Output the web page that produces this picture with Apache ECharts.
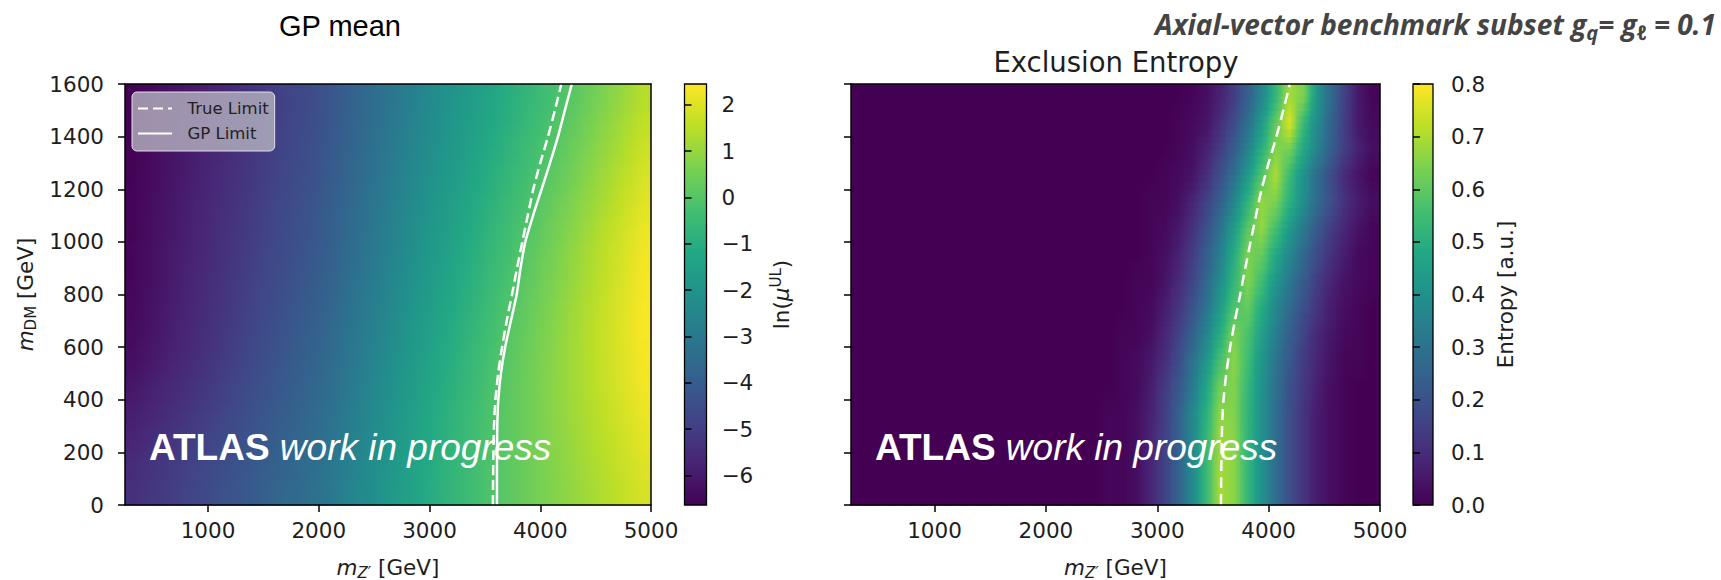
<!DOCTYPE html>
<html><head><meta charset="utf-8">
<script src="https://cdn.jsdelivr.net/npm/echarts@6/dist/echarts.min.js"></script>
<style>html,body{margin:0;padding:0;background:#fff;}#c{width:1721px;height:580px;}</style>
</head><body><div id="c"></div>
<script>
// ---------------- data ----------------
const mZpCenters = [312.5,437.5,562.5,687.5,812.5,937.5,1062.5,1187.5,1312.5,1437.5,1562.5,1687.5,1812.5,1937.5,2062.5,2187.5,2312.5,2437.5,2562.5,2687.5,2812.5,2937.5,3062.5,3187.5,3312.5,3437.5,3562.5,3687.5,3812.5,3937.5,4062.5,4187.5,4312.5,4437.5,4562.5,4687.5,4812.5,4937.5];
const mDMCenters = [50,150,250,350,450,550,650,750,850,950,1050,1150,1250,1350,1450,1550];

// GP mean ln(mu_UL), one row per mDM bin (bottom row first)
const gpMean = [
[-5.4,-5.25,-5.1,-5.0,-4.8,-4.7,-4.5,-4.3,-4.2,-4.0,-3.8,-3.6,-3.5,-3.3,-3.1,-2.8,-2.5,-2.3,-2.0,-1.7,-1.5,-1.2,-0.94,-0.73,-0.51,-0.3,-0.08,0.11,0.29,0.47,0.65,0.83,1.0,1.18,1.36,1.54,1.72,1.9],
[-5.5,-5.35,-5.2,-5.05,-4.9,-4.75,-4.6,-4.45,-4.25,-4.1,-3.9,-3.75,-3.55,-3.4,-3.15,-2.9,-2.6,-2.35,-2.05,-1.8,-1.5,-1.25,-0.99,-0.76,-0.54,-0.31,-0.09,0.11,0.3,0.49,0.68,0.87,1.06,1.25,1.43,1.62,1.81,2.0],
[-5.7,-5.55,-5.39,-5.24,-5.08,-4.93,-4.76,-4.58,-4.4,-4.22,-4.03,-3.85,-3.67,-3.49,-3.26,-2.98,-2.7,-2.42,-2.13,-1.85,-1.57,-1.29,-1.03,-0.8,-0.57,-0.33,-0.1,0.12,0.31,0.51,0.71,0.91,1.11,1.31,1.5,1.7,1.9,2.1],
[-5.9,-5.74,-5.57,-5.41,-5.25,-5.08,-4.91,-4.72,-4.53,-4.34,-4.16,-3.97,-3.78,-3.59,-3.36,-3.07,-2.78,-2.49,-2.21,-1.92,-1.63,-1.34,-1.08,-0.84,-0.6,-0.35,-0.11,0.11,0.32,0.53,0.74,0.95,1.16,1.36,1.57,1.78,1.99,2.2],
[-6.1,-5.93,-5.75,-5.58,-5.41,-5.24,-5.05,-4.86,-4.67,-4.47,-4.28,-4.08,-3.89,-3.7,-3.46,-3.17,-2.88,-2.59,-2.31,-2.02,-1.73,-1.44,-1.17,-0.92,-0.67,-0.41,-0.16,0.08,0.31,0.53,0.75,0.97,1.19,1.41,1.64,1.86,2.08,2.3],
[-6.3,-6.12,-5.94,-5.75,-5.57,-5.39,-5.2,-5.0,-4.8,-4.6,-4.4,-4.2,-4.0,-3.8,-3.56,-3.27,-2.98,-2.69,-2.41,-2.12,-1.83,-1.54,-1.27,-1.0,-0.74,-0.48,-0.22,0.04,0.27,0.5,0.73,0.97,1.2,1.43,1.66,1.89,2.12,2.35],
[-6.4,-6.22,-6.04,-5.85,-5.67,-5.49,-5.3,-5.1,-4.9,-4.7,-4.5,-4.3,-4.1,-3.9,-3.66,-3.37,-3.08,-2.79,-2.51,-2.22,-1.93,-1.64,-1.37,-1.1,-0.84,-0.57,-0.3,-0.04,0.21,0.45,0.7,0.94,1.18,1.43,1.67,1.91,2.16,2.4],
[-6.45,-6.27,-6.09,-5.9,-5.72,-5.54,-5.35,-5.16,-4.97,-4.77,-4.58,-4.38,-4.19,-4.0,-3.76,-3.47,-3.18,-2.89,-2.61,-2.32,-2.03,-1.74,-1.47,-1.2,-0.93,-0.67,-0.4,-0.13,0.13,0.38,0.63,0.88,1.14,1.39,1.64,1.89,2.15,2.4],
[-6.5,-6.32,-6.14,-5.95,-5.77,-5.59,-5.41,-5.22,-5.03,-4.84,-4.66,-4.47,-4.28,-4.09,-3.86,-3.57,-3.28,-2.99,-2.71,-2.42,-2.13,-1.84,-1.57,-1.3,-1.04,-0.77,-0.5,-0.24,0.03,0.28,0.54,0.8,1.06,1.32,1.57,1.83,2.09,2.35],
[-6.5,-6.33,-6.15,-5.98,-5.81,-5.64,-5.46,-5.28,-5.1,-4.92,-4.73,-4.55,-4.37,-4.19,-3.96,-3.67,-3.38,-3.09,-2.81,-2.52,-2.23,-1.94,-1.67,-1.4,-1.13,-0.87,-0.6,-0.34,-0.07,0.19,0.46,0.72,0.98,1.25,1.51,1.77,2.04,2.3],
[-6.55,-6.38,-6.2,-6.03,-5.86,-5.69,-5.51,-5.33,-5.15,-4.97,-4.78,-4.6,-4.42,-4.24,-4.01,-3.73,-3.45,-3.17,-2.88,-2.6,-2.32,-2.04,-1.77,-1.5,-1.24,-0.98,-0.71,-0.45,-0.18,0.08,0.34,0.61,0.88,1.14,1.41,1.67,1.94,2.2],
[-6.55,-6.39,-6.22,-6.06,-5.9,-5.73,-5.56,-5.38,-5.2,-5.02,-4.83,-4.65,-4.47,-4.29,-4.06,-3.79,-3.51,-3.24,-2.96,-2.69,-2.41,-2.14,-1.87,-1.61,-1.36,-1.1,-0.84,-0.58,-0.32,-0.07,0.2,0.46,0.73,0.99,1.25,1.52,1.79,2.05],
[-6.6,-6.44,-6.27,-6.11,-5.95,-5.78,-5.61,-5.44,-5.26,-5.09,-4.91,-4.74,-4.56,-4.39,-4.16,-3.89,-3.61,-3.34,-3.06,-2.79,-2.51,-2.24,-1.97,-1.72,-1.47,-1.22,-0.96,-0.71,-0.46,-0.21,0.05,0.31,0.58,0.84,1.11,1.37,1.64,1.9],
[-6.6,-6.45,-6.29,-6.14,-5.98,-5.83,-5.66,-5.49,-5.31,-5.14,-4.96,-4.79,-4.61,-4.44,-4.22,-3.95,-3.68,-3.41,-3.14,-2.87,-2.6,-2.33,-2.08,-1.83,-1.58,-1.33,-1.08,-0.84,-0.59,-0.34,-0.09,0.16,0.43,0.69,0.96,1.22,1.49,1.75],
[-6.62,-6.47,-6.32,-6.17,-6.02,-5.87,-5.71,-5.54,-5.36,-5.19,-5.01,-4.84,-4.66,-4.49,-4.27,-4.01,-3.74,-3.48,-3.22,-2.96,-2.69,-2.43,-2.18,-1.93,-1.69,-1.45,-1.2,-0.96,-0.72,-0.47,-0.23,0.02,0.28,0.54,0.81,1.07,1.34,1.6],
[-6.64,-6.5,-6.35,-6.21,-6.07,-5.92,-5.76,-5.59,-5.41,-5.24,-5.06,-4.89,-4.71,-4.54,-4.32,-4.06,-3.79,-3.53,-3.27,-3.01,-2.74,-2.48,-2.23,-2.0,-1.76,-1.53,-1.29,-1.06,-0.82,-0.59,-0.35,-0.12,0.13,0.4,0.66,0.92,1.19,1.45]
];

// Exclusion entropy [a.u.], one row per mDM bin (bottom row first)
const entropy = [
[0,0,0,0,0,0,0,0,0,0,0,0,0,0,0,0,0,0,.01,.01,.03,.08,.15,.25,.37,.53,.69,.66,.53,.40,.29,.19,.12,.06,.03,.01,0,0],
[0,0,0,0,0,0,0,0,0,0,0,0,0,0,0,0,0,0,.01,.01,.03,.08,.15,.25,.37,.53,.69,.66,.53,.40,.29,.19,.12,.06,.03,.01,0,0],
[0,0,0,0,0,0,0,0,0,0,0,0,0,0,0,0,0,0,.01,.01,.03,.08,.15,.24,.36,.52,.68,.66,.52,.40,.29,.19,.12,.06,.03,.01,0,0],
[0,0,0,0,0,0,0,0,0,0,0,0,0,0,0,0,0,0,.01,.01,.03,.07,.14,.24,.36,.50,.66,.65,.52,.40,.29,.19,.12,.06,.03,.01,0,0],
[0,0,0,0,0,0,0,0,0,0,0,0,0,0,0,0,0,0,0,.01,.02,.06,.13,.21,.32,.46,.62,.65,.53,.40,.30,.20,.13,.07,.03,.01,0,0],
[0,0,0,0,0,0,0,0,0,0,0,0,0,0,0,0,0,0,0,.01,.02,.05,.10,.18,.29,.41,.56,.66,.55,.42,.31,.22,.14,.08,.04,.01,.01,0],
[0,0,0,0,0,0,0,0,0,0,0,0,0,0,0,0,0,0,0,.01,.01,.03,.08,.15,.24,.35,.49,.64,.57,.45,.34,.24,.16,.09,.05,.02,.01,0],
[0,0,0,0,0,0,0,0,0,0,0,0,0,0,0,0,0,0,0,0,.01,.02,.06,.12,.20,.30,.43,.57,.61,.49,.37,.28,.19,.12,.06,.03,.01,0],
[0,0,0,0,0,0,0,0,0,0,0,0,0,0,0,0,0,0,0,0,.01,.01,.04,.09,.16,.26,.38,.52,.65,.55,.42,.32,.23,.14,.08,.04,.02,.01],
[0,0,0,0,0,0,0,0,0,0,0,0,0,0,0,0,0,0,0,0,0,.01,.03,.07,.14,.23,.34,.49,.64,.61,.48,.37,.27,.18,.11,.06,.02,.01],
[0,0,0,0,0,0,0,0,0,0,0,0,0,0,0,0,0,0,0,0,0,.01,.02,.05,.11,.19,.30,.43,.59,.67,.56,.43,.32,.22,.14,.08,.04,.01],
[0,0,0,0,0,0,0,0,0,0,0,0,0,0,0,0,0,0,0,0,0,.01,.01,.03,.08,.15,.24,.36,.51,.67,.64,.51,.39,.28,.19,.11,.06,.03],
[0,0,0,0,0,0,0,0,0,0,0,0,0,0,0,0,0,0,0,0,0,0,.01,.02,.04,.10,.19,.29,.43,.58,.70,.54,.40,.28,.18,.09,.04,.01],
[0,0,0,0,0,0,0,0,0,0,0,0,0,0,0,0,0,0,0,0,0,0,0,.01,.03,.07,.14,.23,.35,.50,.65,.63,.48,.35,.24,.14,.07,.03],
[0,0,0,0,0,0,0,0,0,0,0,0,0,0,0,0,0,0,0,0,0,0,0,.01,.02,.04,.10,.18,.29,.43,.60,.76,.53,.38,.25,.14,.05,.02],
[0,0,0,0,0,0,0,0,0,0,0,0,0,0,0,0,0,0,0,0,0,0,0,0,.01,.03,.07,.14,.24,.36,.52,.69,.64,.41,.27,.15,.05,.01]
];

// exclusion limit contours
const limitMDM     = [0,100,200,300,400,500,600,700,800,900,1000,1100,1200,1300,1400,1500,1600];
const trueLimitMZp = [3572,3574,3577,3582,3595,3620,3655,3697,3745,3790,3838,3887,3937,4000,4070,4132,4190];
const gpLimitMZp   = [3609,3609,3610,3612,3621,3645,3683,3735,3787,3822,3865,3935,4012,4088,4160,4222,4285];

// axes / colour scales
const mZpRange = [250, 5000];
const mDMRange = [0, 1600];
const mZpTicks = [1000,2000,3000,4000,5000];
const mDMTicks = [0,200,400,600,800,1000,1200,1400,1600];
const gpRange = [-6.64, 2.45];
const gpTicks = [-6,-5,-4,-3,-2,-1,0,1,2];
const entropyRange = [0, 0.8];
const entropyTicks = [0,0.1,0.2,0.3,0.4,0.5,0.6,0.7,0.8];

// ---------------- styling ----------------
const viridis = ['#440154','#482475','#414487','#355f8d','#2a788e','#21918c','#22a884','#44bf70','#7ad151','#bddf26','#fde725'];
const DV = "'DejaVu Sans', sans-serif";
const LS = "'Liberation Sans', Arial, sans-serif";
const INK = '#1e1e1e';
const FS = 21.5;
const tickFont = {fontFamily: DV, fontSize: FS, color: INK};
const halfW = (mZpCenters[1] - mZpCenters[0]) / 2;
const halfH = (mDMCenters[1] - mDMCenters[0]) / 2;

function cells(rows) {
  const out = [];
  rows.forEach((row, r) => row.forEach((v, k) => out.push([mZpCenters[k], mDMCenters[r], v])));
  return out;
}
// each cell is drawn with bilinear shading (like imshow interpolation), split into sub-strips
function makeCellItem(rows, range) {
  const nCol = mZpCenters.length, nRow = rows.length, SUB = 4;
  const col = val => echarts.color.lerp(Math.max(0, Math.min(1, (val - range[0]) / (range[1] - range[0]))), viridis);
  const at = (r, k) => rows[Math.max(0, Math.min(nRow - 1, r))][Math.max(0, Math.min(nCol - 1, k))];
  const vAt = (rr, k) => { const r0 = Math.floor(rr), f = rr - r0; return at(r0, k) * (1 - f) + at(r0 + 1, k) * f; };
  return function (params, api) {
    const r = Math.floor(params.dataIndex / nCol), k = params.dataIndex % nCol;
    const x = api.value(0), y = api.value(1);
    const a = api.coord([x - halfW, y + halfH]);
    const b = api.coord([x + halfW, y - halfH]);
    const h = (b[1] - a[1]) / SUB;
    const lastCol = k === nCol - 1, topRow = r === nRow - 1;
    const children = [];
    for (let s = 0; s < SUB; s++) {
      const rr = r + 0.5 - (s + 0.5) / SUB;
      const vc = vAt(rr, k);
      const vl = (vAt(rr, k - 1) + vc) / 2;
      const vr = (vAt(rr, k + 1) + vc) / 2;
      const y0 = a[1] + s * h - (topRow && s === 0 ? 0 : 0.6);
      children.push({type: 'rect',
        shape: {x: a[0] - (k === 0 ? 0 : 0.6), y: y0, width: b[0] - a[0] + (k === 0 ? 0 : 0.6) + (lastCol ? 0 : 0.6), height: a[1] + (s + 1) * h - y0 + 0.6},
        style: {fill: {type: 'linear', x: 0, y: 0, x2: 1, y2: 0, colorStops: [
          {offset: 0, color: col(vl)}, {offset: 0.5, color: col(vc)}, {offset: 1, color: col(vr)}]}}});
    }
    return {type: 'group', children};
  };
}
function barItem(params, api) {
  const a = api.coord([0, api.value(2)]);
  const b = api.coord([1, api.value(1)]);
  return {type: 'rect', shape: {x: a[0], y: a[1], width: b[0] - a[0], height: b[1] - a[1]},
          style: {fill: {type: 'linear', x: 0, y: 1, x2: 0, y2: 0,
                   colorStops: viridis.map((c, i) => ({offset: i / (viridis.length - 1), color: c}))},
                  stroke: '#000', lineWidth: 1.3}};
}
const axLine = {show: true, onZero: false, lineStyle: {color: '#000', width: 1.5}};
const tick = (vals) => ({show: true, length: 7, customValues: vals, lineStyle: {color: '#000', width: 1.5}});
const plain = v => String(v);
function frame(gridIndex, position, isX) {
  const r = isX ? mZpRange : mDMRange;
  return {gridIndex, position, type: 'value', min: r[0], max: r[1], axisLine: axLine,
          axisTick: {show: false}, axisLabel: {show: false}, splitLine: {show: false}, z: 10};
}
const subRich = {
  m: {fontFamily: DV, fontSize: FS, fontStyle: 'italic', color: INK, lineHeight: 26},
  t: {fontFamily: DV, fontSize: FS, color: INK, lineHeight: 26},
  s: {fontFamily: DV, fontSize: 15, color: INK, lineHeight: 15, verticalAlign: 'bottom'},
  si: {fontFamily: DV, fontSize: 15, fontStyle: 'italic', color: INK, lineHeight: 15, verticalAlign: 'bottom'},
  u: {fontFamily: DV, fontSize: 15, color: INK, lineHeight: 15, verticalAlign: 'top'}
};
const xName = '{m|m}{si|Z′}{t|\u00a0[GeV]}';

function mainX(gridIndex) {
  return {gridIndex, type: 'value', position: 'bottom', min: mZpRange[0], max: mZpRange[1],
    axisLine: axLine, axisTick: tick(mZpTicks),
    axisLabel: Object.assign({customValues: mZpTicks, margin: 14, formatter: plain}, tickFont),
    splitLine: {show: false}, name: xName, nameLocation: 'middle', nameGap: 49,
    nameTextStyle: {rich: subRich}, z: 10};
}
const atlasRich = {b: {font: 'bold 37px ' + LS, fill: '#fff'}, i: {font: 'italic 37px ' + LS, fill: '#fff'}};

const chart = echarts.init(document.getElementById('c'), null, {renderer: 'svg'});
chart.setOption({
  animation: false,
  backgroundColor: '#fff',
  grid: [
    {left: 125, top: 84, width: 526, height: 421, outerBoundsMode: 'none'},
    {left: 684.5, top: 84, width: 22, height: 421, outerBoundsMode: 'none'},
    {left: 851, top: 84, width: 529, height: 421, outerBoundsMode: 'none'},
    {left: 1413, top: 84, width: 20, height: 421, outerBoundsMode: 'none'}
  ],
  xAxis: [
    mainX(0),
    frame(0, 'top', true),
    {gridIndex: 1, type: 'value', min: 0, max: 1, show: false},
    mainX(2),
    frame(2, 'top', true),
    {gridIndex: 3, type: 'value', min: 0, max: 1, show: false}
  ],
  yAxis: [
    {gridIndex: 0, type: 'value', position: 'left', min: mDMRange[0], max: mDMRange[1],
     axisLine: axLine, axisTick: tick(mDMTicks),
     axisLabel: Object.assign({customValues: mDMTicks, margin: 21, formatter: plain}, tickFont),
     splitLine: {show: false}, name: '{m|m}{s|DM}{t|\u00a0[GeV]}', nameLocation: 'middle', nameGap: 87,
     nameTextStyle: {rich: subRich}, z: 10},
    frame(0, 'right', false),
    {gridIndex: 1, type: 'value', position: 'right', min: gpRange[0], max: gpRange[1],
     axisLine: {show: false}, axisTick: tick(gpTicks),
     axisLabel: Object.assign({customValues: gpTicks, margin: 15,
       formatter: v => (v < 0 ? '\u2212' + (-v) : String(v))}, tickFont),
     splitLine: {show: false}, name: '{t|ln(}{m|μ}{u|UL}{t|)}', nameLocation: 'middle', nameGap: 62,
     nameTextStyle: {rich: subRich}, z: 10},
    {gridIndex: 2, type: 'value', position: 'left', min: mDMRange[0], max: mDMRange[1],
     axisLine: axLine, axisTick: tick(mDMTicks), axisLabel: {show: false}, splitLine: {show: false}, z: 10},
    frame(2, 'right', false),
    {gridIndex: 3, type: 'value', position: 'right', min: entropyRange[0], max: entropyRange[1],
     axisLine: {show: false}, axisTick: tick(entropyTicks),
     axisLabel: Object.assign({customValues: entropyTicks, margin: 18, formatter: v => v.toFixed(1)}, tickFont),
     splitLine: {show: false}, name: 'Entropy [a.u.]', nameLocation: 'middle', nameGap: 61,
     nameTextStyle: {fontFamily: DV, fontSize: FS, color: INK}, z: 10}
  ],
  visualMap: [
    {type: 'continuous', seriesIndex: 0, dimension: 2, min: gpRange[0], max: gpRange[1], show: false, inRange: {color: viridis}},
    {type: 'continuous', seriesIndex: 4, dimension: 2, min: entropyRange[0], max: entropyRange[1], show: false, inRange: {color: viridis}}
  ],
  legend: {
    data: ['True Limit', 'GP Limit'], orient: 'vertical', left: 132, top: 92,
    padding: [8, 6, 9, 5], itemGap: 8, itemWidth: 34, itemHeight: 16,
    itemStyle: {opacity: 0, color: 'rgba(0,0,0,0)', borderWidth: 0},
    formatter: name => '\u00a0\u00a0' + name,
    backgroundColor: 'rgba(178,176,190,0.82)', borderColor: 'rgba(230,230,238,0.95)', borderWidth: 1, borderRadius: 5,
    textStyle: {color: '#222', fontFamily: DV, fontSize: 16.5},
    selectedMode: false, z: 20
  },
  graphic: [
    {type: 'text', x: 340, y: 26, z: 30, style: {text: 'GP mean', font: '29px ' + LS, fill: '#000',
      align: 'center', verticalAlign: 'middle', textAlign: 'center', textVerticalAlign: 'middle'}},
    {type: 'text', x: 1116, y: 62, z: 30, style: {text: 'Exclusion Entropy', font: '27.5px ' + DV, fill: INK,
      align: 'center', verticalAlign: 'middle', textAlign: 'center', textVerticalAlign: 'middle'}},
    {type: 'text', x: 1716, y: 24, z: 30, style: {
      text: '{b|Axial-vector benchmark subset g}{s|q}{b|= g}{s|ℓ}{b|\u00a0= 0.1}',
      align: 'right', verticalAlign: 'middle', textAlign: 'right', textVerticalAlign: 'middle',
      rich: {
        b: {font: "italic bold 28px 'Open Sans', Lato, sans-serif", fill: '#444', lineHeight: 36},
        s: {font: "italic bold 20px 'Open Sans', Lato, sans-serif", fill: '#444', lineHeight: 16, verticalAlign: 'bottom'}
      }}},
    {type: 'text', x: 149, y: 447, z: 30, style: {
      text: '{b|ATLAS}{i|\u00a0work in progress}', align: 'left', verticalAlign: 'middle', textAlign: 'left', textVerticalAlign: 'middle',
      rich: atlasRich}},
    {type: 'text', x: 875, y: 447, z: 30, style: {
      text: '{b|ATLAS}{i|\u00a0work in progress}', align: 'left', verticalAlign: 'middle', textAlign: 'left', textVerticalAlign: 'middle',
      rich: atlasRich}}
  ],
  series: [
    {type: 'custom', name: 'GP mean', xAxisIndex: 0, yAxisIndex: 0, data: cells(gpMean),
     encode: {x: 0, y: 1}, renderItem: makeCellItem(gpMean, gpRange), silent: true, z: 1},
    {type: 'line', name: 'True Limit', xAxisIndex: 0, yAxisIndex: 0,
     data: trueLimitMZp.map((x, i) => [x, limitMDM[i]]), symbol: 'none', smooth: 0.25,
     lineStyle: {color: '#fff', width: 2.5, type: [10, 5]}, itemStyle: {color: '#fff'}, z: 4},
    {type: 'line', name: 'GP Limit', xAxisIndex: 0, yAxisIndex: 0,
     data: gpLimitMZp.map((x, i) => [x, limitMDM[i]]), symbol: 'none', smooth: 0.25,
     lineStyle: {color: '#fff', width: 2.5}, itemStyle: {color: '#fff'}, z: 4},
    {type: 'custom', xAxisIndex: 2, yAxisIndex: 2, data: [[0, gpRange[0], gpRange[1]]], renderItem: barItem, silent: true},
    {type: 'custom', name: 'Exclusion Entropy', xAxisIndex: 3, yAxisIndex: 3, data: cells(entropy),
     encode: {x: 0, y: 1}, renderItem: makeCellItem(entropy, entropyRange), silent: true, z: 1},
    {type: 'line', name: 'True Limit', xAxisIndex: 3, yAxisIndex: 3,
     data: trueLimitMZp.map((x, i) => [x, limitMDM[i]]), symbol: 'none', smooth: 0.25,
     lineStyle: {color: '#fff', width: 2.5, type: [11, 6]}, itemStyle: {color: '#fff'}, z: 4},
    {type: 'custom', xAxisIndex: 5, yAxisIndex: 5, data: [[0, entropyRange[0], entropyRange[1]]], renderItem: barItem, silent: true}
  ]
});
</script></body></html>
